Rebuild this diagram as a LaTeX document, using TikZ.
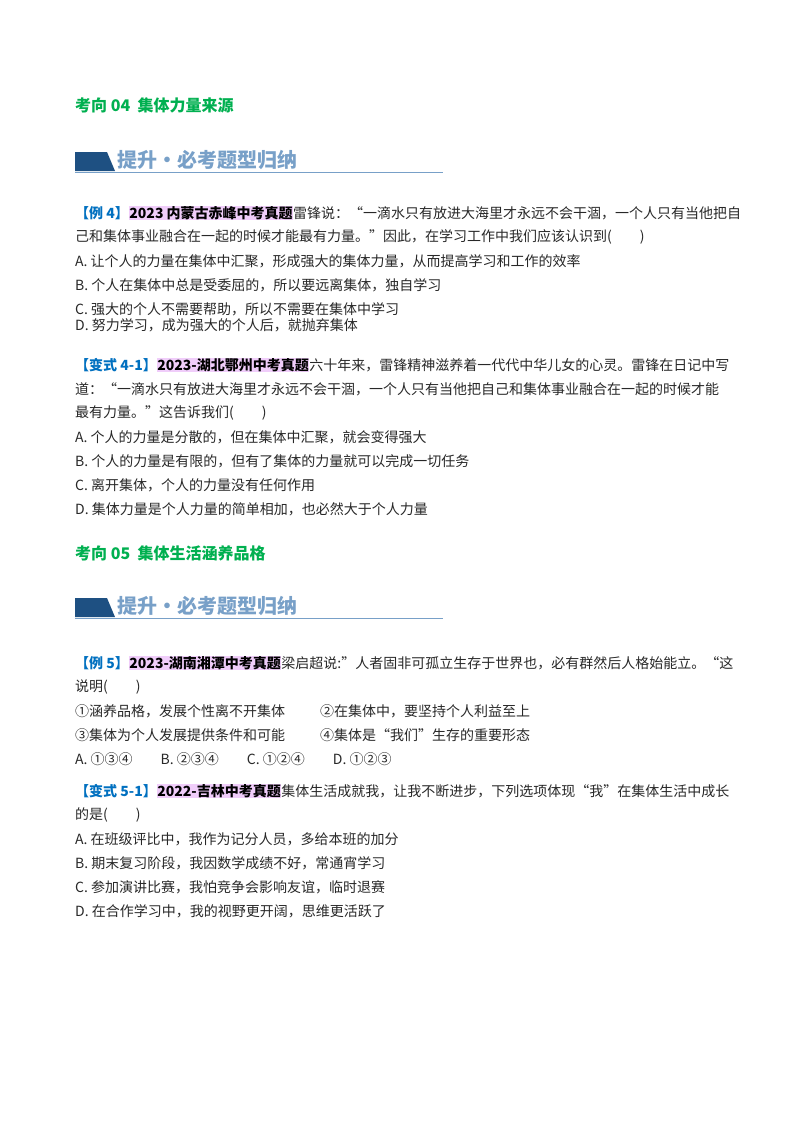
\documentclass[tikz,border=0pt]{standalone}
\usepackage{fontspec}
\setmainfont{Noto Sans CJK SC}
\definecolor{tg}{RGB}{0,176,80}
\definecolor{lb}{RGB}{0,112,192}
\definecolor{hl}{RGB}{240,205,250}
\definecolor{bd}{RGB}{30,80,130}
\definecolor{bl}{RGB}{120,160,200}
\definecolor{tx}{RGB}{40,40,40}
\newcommand{\src}[1]{{\setlength{\fboxsep}{0.5pt}\colorbox{hl}{\bfseries\color{black}#1}}}
\newcommand{\lab}[1]{{\color{lb}\bfseries #1}}
\begin{document}
\begin{tikzpicture}[x=1pt,y=-1pt,
  ln/.style={anchor=west,inner sep=0pt,font=\fontsize{14}{14}\selectfont,text=tx},
  ttl/.style={anchor=west,inner sep=0pt,font=\fontsize{16}{16}\selectfont\bfseries,text=tg},
  ban/.style={anchor=west,inner sep=0pt,font=\fontsize{20}{20}\selectfont\bfseries,text=bl}]
\useasboundingbox (0,0) rectangle (800,1132);
\fill[white] (0,0) rectangle (800,1132);
% section 1
\node[ttl] (t1) at (75,105) {考向 04\ \ 集体力量来源};
\fill[bd] (75,152) -- (107,152) -- (115,171) -- (75,171) -- cycle;
\node[ban] (b1) at (117,160) {提升·必考题型归纳};
\draw[bl,line width=0.8pt] (75,172.5) -- (443,172.5);
\node[ln] (a1) at (75,213) {\lab{【例 4】}\src{2023 内蒙古赤峰中考真题}雷锋说：“一滴水只有放进大海里才永远不会干涸，一个人只有当他把自};
\node[ln] (a2) at (75,237) {己和集体事业融合在一起的时候才能最有力量。”因此，在学习工作中我们应该认识到(\quad\quad)};
\node[ln] (a3) at (75,261) {A. 让个人的力量在集体中汇聚，形成强大的集体力量，从而提高学习和工作的效率};
\node[ln] (a4) at (75,285) {B. 个人在集体中总是受委屈的，所以要远离集体，独自学习};
\node[ln] (a5) at (75,309) {C. 强大的个人不需要帮助，所以不需要在集体中学习};
\node[ln] (a6) at (75,333) {};
\node[ln] (a6) at (75,325) {D. 努力学习，成为强大的个人后，就抛弃集体};
\node[ln] (c1) at (75,365) {\lab{【变式 4-1】}\src{2023-湖北鄂州中考真题}六十年来，雷锋精神滋养着一代代中华儿女的心灵。雷锋在日记中写};
\node[ln] (c2) at (75,389) {道：“一滴水只有放进大海里才永远不会干涸，一个人只有当他把自己和集体事业融合在一起的时候才能};
\node[ln] (c3) at (75,413) {最有力量。”这告诉我们(\quad\quad)};
\node[ln] (c4) at (75,437) {A. 个人的力量是分散的，但在集体中汇聚，就会变得强大};
\node[ln] (c5) at (75,461) {B. 个人的力量是有限的，但有了集体的力量就可以完成一切任务};
\node[ln] (c6) at (75,485) {C. 离开集体，个人的力量没有任何作用};
\node[ln] (c7) at (75,509) {D. 集体力量是个人力量的简单相加，也必然大于个人力量};
% section 2
\node[ttl] (t2) at (75,553) {考向 05\ \ 集体生活涵养品格};
\fill[bd] (75,598) -- (107,598) -- (115,617) -- (75,617) -- cycle;
\node[ban] (b2) at (117,606) {提升·必考题型归纳};
\draw[bl,line width=0.8pt] (75,618.5) -- (443,618.5);
\node[ln] (e1) at (75,663) {\lab{【例 5】}\src{2023-湖南湘潭中考真题}梁启超说:”人者固非可孤立生存于世界也，必有群然后人格始能立。“这};
\node[ln] (e2) at (75,687) {说明(\quad\quad)};
\node[ln] (e3) at (75,711) {①涵养品格，发展个性离不开集体};
\node[ln] (e3b) at (320,711) {②在集体中，要坚持个人利益至上};
\node[ln] (e4) at (75,735) {③集体为个人发展提供条件和可能};
\node[ln] (e4b) at (320,735) {④集体是“我们”生存的重要形态};
\node[ln] (e5) at (75,759) {A. ①③④\quad\quad B. ②③④\quad\quad C. ①②④\quad\quad D. ①②③};
\node[ln] (f1) at (75,791) {\lab{【变式 5-1】}\src{2022-吉林中考真题}集体生活成就我，让我不断进步，下列选项体现“我”在集体生活中成长};
\node[ln] (f2) at (75,815) {的是(\quad\quad)};
\node[ln] (f3) at (75,839) {A. 在班级评比中，我作为记分人员，多给本班的加分};
\node[ln] (f4) at (75,863) {B. 期末复习阶段，我因数学成绩不好，常通宵学习};
\node[ln] (f5) at (75,887) {C. 参加演讲比赛，我怕竞争会影响友谊，临时退赛};
\node[ln] (f6) at (75,911) {D. 在合作学习中，我的视野更开阔，思维更活跃了};
\end{tikzpicture}
\end{document}
